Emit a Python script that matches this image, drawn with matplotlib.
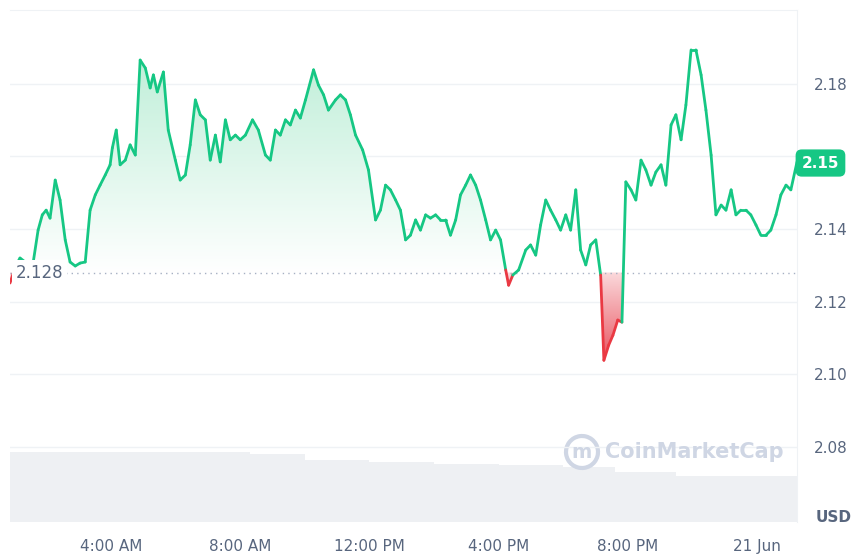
import matplotlib.pyplot as plt
import numpy as np
from matplotlib.colors import LinearSegmentedColormap
from matplotlib.collections import LineCollection
from matplotlib.patches import Arc
from matplotlib.path import Path as MPath

# hours since midnight 20 Jun
hours = [0.87, 1.06, 1.18, 1.34, 1.59, 1.74, 1.87, 1.99, 2.11, 2.27, 2.42, 2.58, 2.73, 2.89, 3.04,
         3.20, 3.35, 3.51, 3.66, 3.82, 3.97, 4.04, 4.16, 4.28, 4.44, 4.59, 4.75, 4.90, 5.06, 5.21,
         5.31, 5.43, 5.62, 5.77, 5.99, 6.14, 6.30, 6.45, 6.61, 6.76, 6.92, 7.07, 7.23, 7.38, 7.54,
         7.69, 7.85, 8.00, 8.16, 8.38, 8.56, 8.78, 8.93, 9.09, 9.24, 9.40, 9.55, 9.71, 9.86, 10.02,
         10.27, 10.42, 10.58, 10.73, 10.95, 11.10, 11.26, 11.41, 11.57, 11.79, 11.97, 12.19, 12.34, 12.50,
         12.65, 12.81, 12.96, 13.12, 13.27, 13.43, 13.58, 13.74, 13.89, 14.05, 14.20, 14.36, 14.51, 14.67,
         14.82, 14.98, 15.13, 15.29, 15.44, 15.60, 15.75, 15.91, 16.06, 16.22, 16.31, 16.44, 16.62, 16.84,
         16.99, 17.15, 17.30, 17.46, 17.61, 17.77, 17.92, 18.08, 18.23, 18.39, 18.54, 18.70, 18.85, 19.01,
         19.16, 19.26, 19.41, 19.54, 19.69, 19.82, 19.94, 20.10, 20.25, 20.41, 20.56, 20.72, 20.87, 21.03,
         21.18, 21.34, 21.49, 21.65, 21.80, 21.96, 22.11, 22.27, 22.42, 22.58, 22.73, 22.89, 23.04, 23.20,
         23.35, 23.50, 23.66, 23.81, 23.97, 24.12, 24.28, 24.43, 24.59, 24.74, 24.90, 25.05, 25.24]
price = [2.1251, 2.1301, 2.1320, 2.1309, 2.1309, 2.1397, 2.1439, 2.1452, 2.1430, 2.1535, 2.1480, 2.1370,
         2.1309, 2.1298, 2.1306, 2.1309, 2.1452, 2.1494, 2.1521, 2.1549, 2.1577, 2.1624, 2.1673, 2.1577,
         2.1590, 2.1632, 2.1604, 2.1866, 2.1844, 2.1789, 2.1825, 2.1778, 2.1833, 2.1673, 2.1590, 2.1535,
         2.1549, 2.1632, 2.1756, 2.1715, 2.1701, 2.1590, 2.1659, 2.1585, 2.1701, 2.1646, 2.1659, 2.1646,
         2.1659, 2.1701, 2.1673, 2.1604, 2.1590, 2.1673, 2.1659, 2.1701, 2.1687, 2.1728, 2.1706, 2.1756,
         2.1839, 2.1797, 2.1770, 2.1728, 2.1756, 2.1770, 2.1756, 2.1715, 2.1659, 2.1618, 2.1563, 2.1425,
         2.1452, 2.1521, 2.1508, 2.1480, 2.1452, 2.1370, 2.1383, 2.1425, 2.1397, 2.1439, 2.1430, 2.1439,
         2.1425, 2.1425, 2.1383, 2.1425, 2.1494, 2.1521, 2.1549, 2.1521, 2.1480, 2.1425, 2.1370, 2.1397,
         2.1370, 2.1287, 2.1245, 2.1273, 2.1287, 2.1342, 2.1356, 2.1328, 2.1411, 2.1480, 2.1452, 2.1425,
         2.1397, 2.1439, 2.1397, 2.1508, 2.1342, 2.1301, 2.1356, 2.1370, 2.1273, 2.1038, 2.1080, 2.1107,
         2.1149, 2.1143, 2.1530, 2.1508, 2.1480, 2.1590, 2.1563, 2.1521, 2.1557, 2.1577, 2.1521, 2.1687,
         2.1715, 2.1646, 2.1742, 2.1894, 2.1894, 2.1825, 2.1728, 2.1604, 2.1439, 2.1466, 2.1452, 2.1508,
         2.1439, 2.1452, 2.1452, 2.1439, 2.1411, 2.1383, 2.1383, 2.1397, 2.1439, 2.1494, 2.1521, 2.1508,
         2.1585]
vol_hours = [0.87, 6.0, 8.3, 10.0, 12.0, 14.0, 16.0, 18.0, 19.6, 21.5, 23.0, 25.24]
volume = [70, 70, 68, 62, 60, 58, 57, 55, 50, 46, 46, 46]

base = 2.128
x = np.array(hours)
y = np.array(price)
green = "#16c784"
red = "#ea3943"

fig = plt.figure(figsize=(8.53, 5.58), dpi=100)
ax = fig.add_axes([10 / 853, 36 / 558, 787 / 853, 512 / 558])
ax.set_xlim(0.87, 25.24)
ax.set_ylim(2.0592, 2.2004)

# volume on its own scale
vax = ax.twinx()
vax.set_ylim(0, 512)
vax.fill_between(vol_hours, volume, step="post", color="#eef0f3", lw=0)
vax.axis("off")
ax.set_zorder(vax.get_zorder() + 1)
ax.patch.set_visible(False)

for gy in [2.08, 2.10, 2.12, 2.14, 2.16, 2.18]:
    ax.axhline(gy, color="#eff2f5", lw=1, zorder=0)

# gradient fills
gcmap = LinearSegmentedColormap.from_list("g", ["#ffffff", "#bdeed7"])
rcmap = LinearSegmentedColormap.from_list("r", ["#e8515d", "#fbd9dc"])
grad = np.linspace(0, 1, 256).reshape(-1, 1)
im = ax.imshow(grad, cmap=gcmap, aspect="auto", origin="lower",
               extent=[0.87, 25.24, base, 2.19], zorder=1)
poly = ax.fill_between(x, y, base, where=y >= base, interpolate=True, color="none", lw=0)
im.set_clip_path(poly.get_paths()[0], transform=ax.transData)
im2 = ax.imshow(grad, cmap=rcmap, aspect="auto", origin="lower",
                extent=[0.87, 25.24, 2.103, base], zorder=1)
rpoly = ax.fill_between(x, y, base, where=y < base, interpolate=True, color="none", lw=0)
im2.set_clip_path(MPath.make_compound_path(*rpoly.get_paths()), transform=ax.transData)

# line coloured by side of baseline
pts = np.column_stack([x, y])
segs = np.stack([pts[:-1], pts[1:]], axis=1)
mids = (y[:-1] + y[1:]) / 2
lc = LineCollection(segs, colors=[green if m >= base else red for m in mids], lw=2,
                    zorder=3, capstyle="round", joinstyle="round")
ax.add_collection(lc)

ax.axhline(base, color="#a6b0c3", lw=1, ls=(0, (1, 3)), zorder=2)
ax.text(1.05, base, "2.128", fontsize=12, color="#58667e", va="center", ha="left",
        bbox=dict(boxstyle="square,pad=0.2", fc="white", ec="none"), zorder=4)

ax.set_xticks([4, 8, 12, 16, 20, 24])
ax.set_xticklabels(["4:00 AM", "8:00 AM", "12:00 PM", "4:00 PM", "8:00 PM", "21 Jun"])
ax.set_yticks([2.08, 2.10, 2.12, 2.14, 2.18])
ax.yaxis.tick_right()
ax.tick_params(length=0, labelsize=11, colors="#58667e", pad=12)
for s in ["left", "bottom"]:
    ax.spines[s].set_visible(False)
ax.spines["top"].set_color("#eff2f5")
ax.spines["right"].set_color("#eff2f5")

ax.text(1.006, 2.1582, "2.15", transform=ax.get_yaxis_transform(), fontsize=11, color="white",
        fontweight="bold", va="center", ha="left",
        bbox=dict(boxstyle="round,pad=0.4", fc=green, ec="none"))
fig.text(852 / 853, 41 / 558, "USD", fontsize=11, fontweight="bold", color="#58667e",
         ha="right", va="center")
fig.text(605 / 853, 106 / 558, "CoinMarketCap", fontsize=15, color="#cfd6e4",
         ha="left", va="center", fontweight="bold")
logo = Arc((582 / 853, 106 / 558), 32 / 853, 32 / 558, theta1=-60, theta2=300,
           transform=fig.transFigure, color="#cfd6e4", lw=3)
fig.add_artist(logo)
fig.text(582 / 853, 106 / 558, "m", fontsize=14, color="#cfd6e4", ha="center", va="center",
         fontweight="bold")

fig.savefig("out.png", dpi=100, facecolor="white")
